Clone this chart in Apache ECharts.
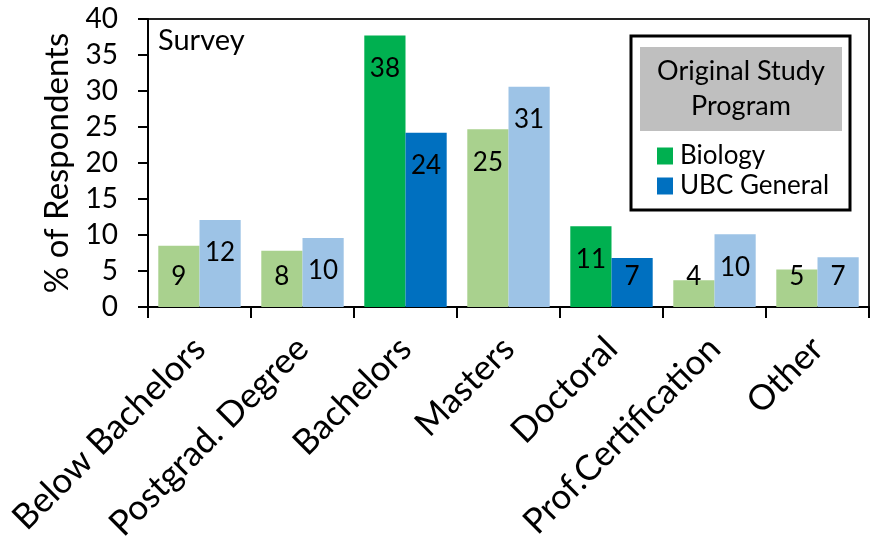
<!DOCTYPE html>
<html>
<head>
<meta charset="utf-8">
<script src="https://cdn.jsdelivr.net/npm/echarts@6/dist/echarts.min.js"></script>
<style>html,body{margin:0;padding:0;background:#fff}#c{width:870px;height:538px}</style>
</head>
<body>
<div id="c"></div>
<script>
const categories = ['Below Bachelors', 'Postgrad. Degree', 'Bachelors', 'Masters', 'Doctoral', 'Prof.Certification', 'Other'];
const biology = [8.5, 7.8, 37.7, 24.7, 11.2, 3.7, 5.2];
const ubcGeneral = [12.1, 9.6, 24.2, 30.6, 6.8, 10.1, 6.9];
const highlighted = ['Bachelors', 'Doctoral'];
const yTicks = { min: 0, max: 40, interval: 5 };

const FONT = 'Lato';
const colors = {
  bioDark: '#00B050', bioLight: '#A9D18E',
  ubcDark: '#0070C0', ubcLight: '#9DC3E6'
};

function itemData(values, dark, light) {
  return values.map((v, i) => ({
    value: v,
    itemStyle: { color: highlighted.includes(categories[i]) ? dark : light }
  }));
}

const labelCfg = {
  show: true,
  position: 'inside',
  fontFamily: FONT,
  fontSize: 26,
  color: '#000',
  formatter: p => Math.round(p.value)
};

const chart = echarts.init(document.getElementById('c'), null, { renderer: 'canvas' });
chart.setOption({
  animation: false,
  textStyle: { fontFamily: FONT },
  grid: { left: 148, right: 1, top: 19, bottom: 231, show: true, borderColor: '#222', borderWidth: 2, outerBoundsMode: 'none', containLabel: false },
  xAxis: {
    type: 'category',
    data: categories,
    axisLine: { lineStyle: { color: '#000', width: 2 } },
    axisTick: { show: true, length: 11, lineStyle: { color: '#000', width: 2 } },
    axisLabel: { rotate: 45, fontSize: 35, fontFamily: FONT, color: '#000', margin: 36, interval: 0 }
  },
  yAxis: {
    type: 'value',
    min: yTicks.min, max: yTicks.max, interval: yTicks.interval,
    name: '% of Respondents',
    nameLocation: 'middle',
    nameGap: 74,
    nameTextStyle: { fontSize: 33, fontFamily: FONT, color: '#000' },
    splitLine: { show: false },
    axisLine: { show: true, lineStyle: { color: '#000', width: 2 } },
    axisTick: { show: true, length: 10, lineStyle: { color: '#000', width: 2 } },
    axisLabel: { fontSize: 28, fontFamily: FONT, color: '#000', margin: 30 }
  },
  legend: {
    orient: 'vertical',
    left: 652, top: 138,
    itemWidth: 16, itemHeight: 17, itemGap: 4,
    icon: 'rect',
    textStyle: { fontSize: 26, fontFamily: FONT, color: '#000', padding: [0, 0, 0, 2] },
    data: ['Biology', 'UBC General']
  },
  labelLayout: function (params) {
    const r = params.rect;
    return {
      x: r.x + r.width / 2,
      y: Math.min(r.y + 33, r.y + r.height - 30),
      align: 'center',
      verticalAlign: 'middle'
    };
  },
  series: [
    {
      name: 'Biology', type: 'bar',
      itemStyle: { color: colors.bioDark },
      barGap: '0%', barCategoryGap: '20%',
      label: labelCfg,
      data: itemData(biology, colors.bioDark, colors.bioLight)
    },
    {
      name: 'UBC General', type: 'bar',
      itemStyle: { color: colors.ubcDark },
      barGap: '0%', barCategoryGap: '20%',
      label: labelCfg,
      data: itemData(ubcGeneral, colors.ubcDark, colors.ubcLight)
    }
  ],
  graphic: [
    { type: 'text', x: 158, y: 26, style: { text: 'Survey', fontSize: 29, fontFamily: FONT, fill: '#000' } },
    { type: 'rect', x: 631, y: 36, shape: { width: 219, height: 174 }, style: { fill: 'rgba(0,0,0,0)', stroke: '#000', lineWidth: 3 }, z: 10 },
    { type: 'rect', x: 640, y: 47, shape: { width: 202, height: 84 }, style: { fill: '#BFBFBF' }, z: 10 },
    { type: 'text', x: 741, y: 89, style: { text: 'Original Study\nProgram', fontSize: 27, lineHeight: 35, fontFamily: FONT, fill: '#000', align: 'center', verticalAlign: 'middle' }, z: 11 }
  ]
});
</script>
</body>
</html>
